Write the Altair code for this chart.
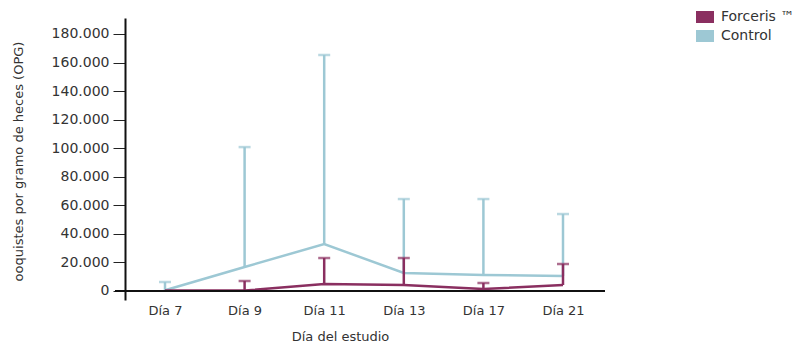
import altair as alt
import pandas as pd

days = ["Día 7", "Día 9", "Día 11", "Día 13", "Día 17", "Día 21"]
series = ["Forceris ™", "Control"]
colors = ["#8a2f60", "#9dc8d4"]

forceris_mean = [300, 300, 4900, 4200, 1400, 4200]
forceris_upper = [None, 7000, 23100, 23100, 5600, 18900]
control_mean = [500, 16800, 32900, 12600, 11200, 10500]
control_upper = [6300, 100800, 165300, 64400, 64400, 53900]
y_ticks = [0, 20000, 40000, 60000, 80000, 100000, 120000, 140000, 160000, 180000]

rows = []
for i, d in enumerate(days):
    rows.append({"day": d, "series": "Control", "mean": control_mean[i], "upper": control_upper[i]})
    rows.append({"day": d, "series": "Forceris ™", "mean": forceris_mean[i], "upper": forceris_upper[i]})
df = pd.DataFrame(rows)

FONT = "DejaVu Sans"
TXT = "#333333"

x_axis = alt.Axis(
    title="Día del estudio",
    ticks=False,
    domain=False,
    labelAngle=0,
    labelPadding=13,
    offset=-9,
    labelFont=FONT,
    labelFontSize=13,
    labelColor=TXT,
    titleFont=FONT,
    titleFontSize=13,
    titleFontWeight="normal",
    titleColor=TXT,
    titleX=225,
    titleY=45,
    titleBaseline="middle",
    titleAlign="center",
)
x_scale = alt.Scale(type="point", range=[50, 448], padding=0)

y_scale = alt.Scale(domain=[-6304, 191206], nice=False, zero=False)
y_axis = alt.Axis(
    title="ooquistes por gramo de heces (OPG)",
    values=y_ticks,
    grid=False,
    labelOverlap=False,
    offset=-10,
    tickSize=12,
    tickWidth=1,
    tickColor="#222222",
    domainColor="#111111",
    domainWidth=2,
    labelPadding=4,
    labelFont=FONT,
    labelFontSize=14,
    labelColor=TXT,
    labelExpr="replace(format(datum.value, ','), ',', '.')",
    titleFont=FONT,
    titleFontSize=13,
    titleFontWeight="normal",
    titleColor=TXT,
    titleAngle=-90,
    titleX=-107,
    titleY=143,
    titleAlign="center",
    titleBaseline="middle",
)


def X():
    return alt.X("day:N", sort=days, scale=x_scale, axis=x_axis, title="Día del estudio")


def Y(field):
    return alt.Y(field, scale=y_scale, axis=y_axis, title="ooquistes por gramo de heces (OPG)")


color_scale = alt.Scale(domain=series, range=colors)

legend_layer = alt.Chart(df).mark_point(filled=True, size=0, opacity=1).encode(
    x=X(),
    y=Y("mean:Q"),
    color=alt.Color(
        "series:N",
        scale=color_scale,
        legend=alt.Legend(
            title=None,
            orient="none",
            legendX=581,
            legendY=-10,
            symbolType="M-1,-0.667H1V0.667H-1Z",
            symbolSize=324,
            symbolStrokeWidth=0,
            symbolOpacity=1,
            labelFont=FONT,
            labelFontSize=14,
            labelColor=TXT,
            labelOffset=7,
            rowPadding=3,
            padding=0,
        ),
    ),
)

axis_line = alt.Chart(df).mark_rule(color="#111111", strokeWidth=2).encode(
    y=alt.datum(0, scale=y_scale, axis=y_axis, title="ooquistes por gramo de heces (OPG)")
)

layers = []
for s, c in [("Control", colors[1]), ("Forceris ™", colors[0])]:
    base = alt.Chart(df).transform_filter(alt.datum.series == s)
    line = base.mark_line(strokeWidth=2.5, color=c).encode(x=X(), y=Y("mean:Q"))
    bars = base.transform_filter("isValid(datum.upper)")
    rule = bars.mark_rule(strokeWidth=2.5, color=c).encode(x=X(), y=Y("mean:Q"), y2="upper:Q")
    cap = bars.mark_tick(orient="horizontal", size=12, thickness=2.5, color=c).encode(
        x=X(), y=Y("upper:Q")
    )
    layers += [line, rule, cap]

chart = alt.layer(*layers, axis_line, legend_layer).properties(
    width=490,
    height=282,
    background="white",
    padding={"left": 107, "top": 10, "right": 189, "bottom": 50},
    autosize=alt.AutoSizeParams(type="none"),
).configure_view(stroke="transparent", strokeWidth=0)

chart.save("out.html", embed_options={"renderer": "svg", "actions": False})
